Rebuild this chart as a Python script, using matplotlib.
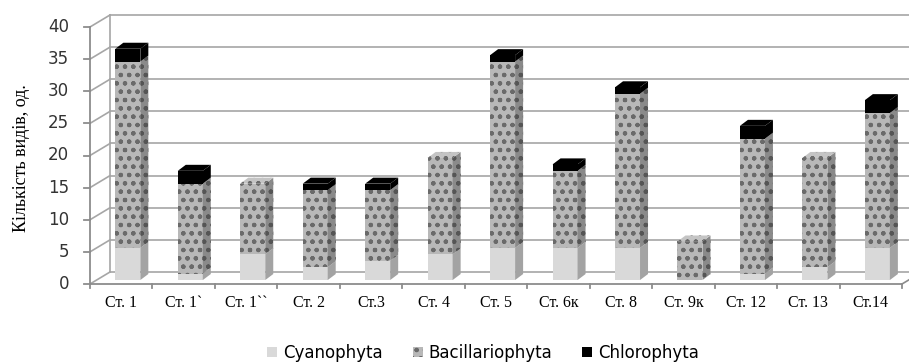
import matplotlib.pyplot as plt
from matplotlib.patches import Polygon, Patch

plt.rcParams['hatch.linewidth'] = 0.8

# дані
stations = ['Ст. 1', 'Ст. 1`', 'Ст. 1``', 'Ст. 2', 'Ст.3', 'Ст. 4', 'Ст. 5',
            'Ст. 6к', 'Ст. 8', 'Ст. 9к', 'Ст. 12', 'Ст. 13', 'Ст.14']
cyano = [5, 1, 4, 2, 3, 4, 5, 5, 5, 0, 1, 2, 5]
bacil = [29, 14, 11, 12, 11, 15, 29, 12, 24, 6, 21, 17, 21]
chloro = [2, 2, 0, 1, 1, 0, 1, 1, 1, 0, 2, 0, 2]
y_ticks = [0, 5, 10, 15, 20, 25, 30, 35, 40]

fig = plt.figure(figsize=(9.09, 3.63), dpi=100)
ax = fig.add_axes([90 / 909, (363 - 284) / 363, 812 / 909, 257 / 363])
n = len(stations)
ax.set_xlim(0, n)
ax.set_ylim(0, 40)
ax.axis('off')

# псевдо-3D: глибина у координатах даних
px_x = n / 812
px_y = 40 / 257
ddx, ddy = 20 * px_x, 12 * px_y
grid_c = '#a6a6a6'
axis_c = '#8c8c8c'

# задня стінка і сітка
for v in y_ticks:
    ax.plot([ddx, n + ddx + 1], [v + ddy, v + ddy], color=grid_c, lw=1.2, clip_on=False, zorder=1)
    ax.plot([0, ddx], [v, v + ddy], color=grid_c, lw=1.2, clip_on=False, zorder=1)
ax.plot([ddx, ddx], [ddy, 40 + ddy], color=grid_c, lw=1.2, clip_on=False, zorder=1)
ax.plot([n, n + ddx], [0, ddy], color=axis_c, lw=1.2, clip_on=False, zorder=1)

# передні осі
ax.plot([0, 0], [0, 40], color=axis_c, lw=1.3, clip_on=False, zorder=5)
ax.plot([0, n], [0, 0], color=axis_c, lw=1.3, clip_on=False, zorder=5)
for v in y_ticks:
    ax.plot([-6 * px_x, 0], [v, v], color=axis_c, lw=1.3, clip_on=False)
    ax.text(-21 * px_x, v, str(v), ha='right', va='center', fontsize=12,
            color='#333333', family='DejaVu Sans')
for i in range(n + 1):
    ax.plot([i, i], [0, -4 * px_y], color=axis_c, lw=1.3, clip_on=False)
for i, s in enumerate(stations):
    ax.text(i + 0.5, -11 * px_y, s, ha='center', va='top', fontsize=11.5,
            family='Liberation Serif')

# стовпці
f0 = 0.33
bw = 25 * px_x
bx, by = ddx * f0, ddy * f0
sx, sy = 8 * px_x, 6 * px_y

series = [
    (cyano, '#d9d9d9', '#a3a3a3', '#e6e6e6', None),
    (bacil, '#b8b8b8', '#8a8a8a', '#c4c4c4', 'oo..'),
    (chloro, '#000000', '#000000', '#000000', None),
]
bottom = [0] * n
tops = [None] * n
for vals, fc, sc, tc, hatch in series:
    xs = [i + 0.5 - bw / 2 + bx for i in range(n)]
    ax.bar(xs, vals, width=bw, bottom=[b + by for b in bottom], align='edge',
           color=fc, hatch=hatch, edgecolor='#6a6a6a' if hatch else fc,
           linewidth=0, zorder=3)
    for i in range(n):
        if vals[i] <= 0:
            continue
        x1 = xs[i] + bw
        y0 = bottom[i] + by
        y1 = y0 + vals[i]
        side = Polygon([(x1, y0), (x1 + sx, y0 + sy), (x1 + sx, y1 + sy), (x1, y1)],
                       closed=True, facecolor=sc, hatch=hatch,
                       edgecolor='#555555' if hatch else sc, linewidth=0, zorder=3)
        ax.add_patch(side)
        tops[i] = (xs[i], y1, tc, hatch)
        bottom[i] += vals[i]

for i in range(n):
    x0, y1, tc, hatch = tops[i]
    top = Polygon([(x0, y1), (x0 + bw, y1), (x0 + bw + sx, y1 + sy), (x0 + sx, y1 + sy)],
                  closed=True, facecolor=tc, hatch=hatch,
                  edgecolor='#6a6a6a' if hatch else tc, linewidth=0, zorder=4)
    ax.add_patch(top)

fig.text(22 / 909, 1 - 158 / 363, 'Кількість видів, од.', rotation=90, ha='center',
         va='center', fontsize=13, family='Liberation Serif')

handles = [
    Patch(facecolor='#d9d9d9', edgecolor='#d9d9d9', linewidth=0),
    Patch(facecolor='#b8b8b8', edgecolor='#6a6a6a', hatch='oo..', linewidth=0),
    Patch(facecolor='#000000', edgecolor='#000000', linewidth=0),
]
fig.legend(handles, ['Cyanophyta', 'Bacillariophyta', 'Chlorophyta'], loc='center',
           bbox_to_anchor=(483 / 909, 1 - 353 / 363), ncol=3, frameon=False,
           handlelength=0.6, handleheight=0.6, handletextpad=0.35, columnspacing=1.8,
           prop={'family': 'DejaVu Sans', 'size': 12})

fig.savefig('out.png', dpi=100)
